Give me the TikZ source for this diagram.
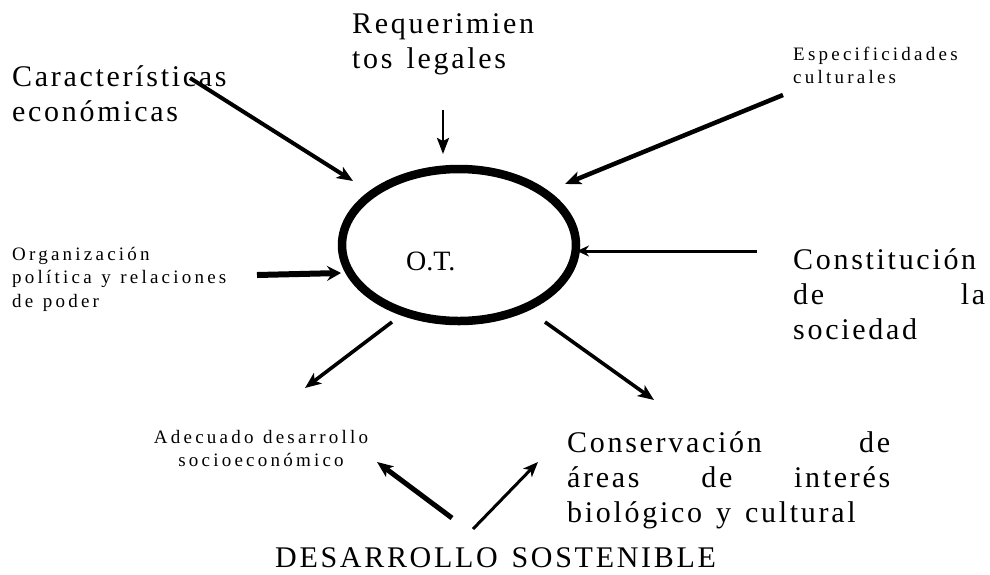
\documentclass[tikz,border=0pt]{standalone}
\usepackage{fontspec}
\setmainfont{Liberation Serif}
\newfontfamily\bigsp[LetterSpace=9,WordSpace=1.35]{Liberation Serif}
\newfontfamily\midsp[LetterSpace=17]{Liberation Serif}
\newcommand\midgap{\hspace{9.5pt}}
\newcommand\biggap{\hspace{14pt}}
\usetikzlibrary{arrows.meta,shapes.geometric}
\begin{document}
\begin{tikzpicture}[x=1pt,y=-1pt,
  big/.style={font=\bigsp\fontsize{30}{35}\selectfont, inner sep=0pt, anchor=base west, align=left},
  mid/.style={font=\midsp\fontsize{19}{23.5}\selectfont, inner sep=0pt, anchor=base west, align=left},
  arr/.style={-{Stealth[length=16pt,width=13pt,inset=4pt]}, line width=#1},
  arr/.default=4pt]
\useasboundingbox (0,0) rectangle (990,574);
% central ellipse
\node (OT) [draw, ellipse, line width=8.5pt, minimum width=234pt, minimum height=152pt, inner sep=0pt] at (459,245) {};
\node (OTlab) [anchor=base west, inner sep=0pt, font=\fontsize{28}{32}\selectfont] at (406,270) {O.T.};
% labels
\node (car) [big, text width=240pt] at (12,86) {Características\\económicas};
\node (req) [big, text width=200pt] at (352,33) {Requerimien\\tos\biggap legales};
\node (esp) [mid, text width=180pt] at (793,60) {Especificidades\\culturales};
\node (org) [mid, text width=240pt] at (12,260) {Organización\\política\midgap y\midgap relaciones\\de\midgap poder};
\node (con) [big, text width=192pt] at (793,269) {Constitución\\de\hfill la\\sociedad};
\node (ade) [mid, text width=240pt, align=center, anchor=base] at (261,443) {Adecuado\midgap desarrollo\\socioeconómico};
\node (cons) [big, text width=323pt] at (567,452) {Conservación\hfill de\\áreas\hfill de\hfill interés\\biológico\biggap y\biggap cultural};
\node (des) [big] at (275,567) {DESARROLLO SOSTENIBLE};
% arrow end points
\coordinate (car-s) at (190,78);   \coordinate (car-e) at (353,181);
\coordinate (req-s) at (443,110);  \coordinate (req-e) at (443,154);
\coordinate (esp-s) at (783,95);   \coordinate (esp-e) at (565,184);
\coordinate (org-s) at (257,275);  \coordinate (org-e) at (341,273);
\coordinate (con-s) at (757,251);  \coordinate (con-e) at (577,251);
\coordinate (ot-l) at (392,322);   \coordinate (ade-e) at (305,388);
\coordinate (ot-r) at (545,322);   \coordinate (cons-e) at (654,400);
\coordinate (des-l) at (452,518);  \coordinate (ade-b) at (377,462);
\coordinate (des-r) at (473,529);  \coordinate (cons-b) at (538,462);
% connectors
\draw[arr=4pt] (car-s) -- (car-e);
\draw[-{Stealth[length=16pt,width=12pt,inset=3pt]}, line width=2.6pt] (req-s) -- (req-e);
\draw[arr=4.5pt] (esp-s) -- (esp-e);
\draw[-{Stealth[length=14pt,width=15pt,inset=5pt]}, line width=6pt] (org-s) -- (org-e);
\draw[-{Stealth[length=12pt,width=11pt,inset=4pt]}, line width=3pt] (con-s) -- (con-e);
\draw[arr=3.6pt] (ot-l) -- (ade-e);
\draw[arr=3.6pt] (ot-r) -- (cons-e);
\draw[arr=5pt] (des-l) -- (ade-b);
\draw[-{Stealth[length=15pt,width=12pt,inset=4pt]}, line width=3pt] (des-r) -- (cons-b);
\end{tikzpicture}
\end{document}
